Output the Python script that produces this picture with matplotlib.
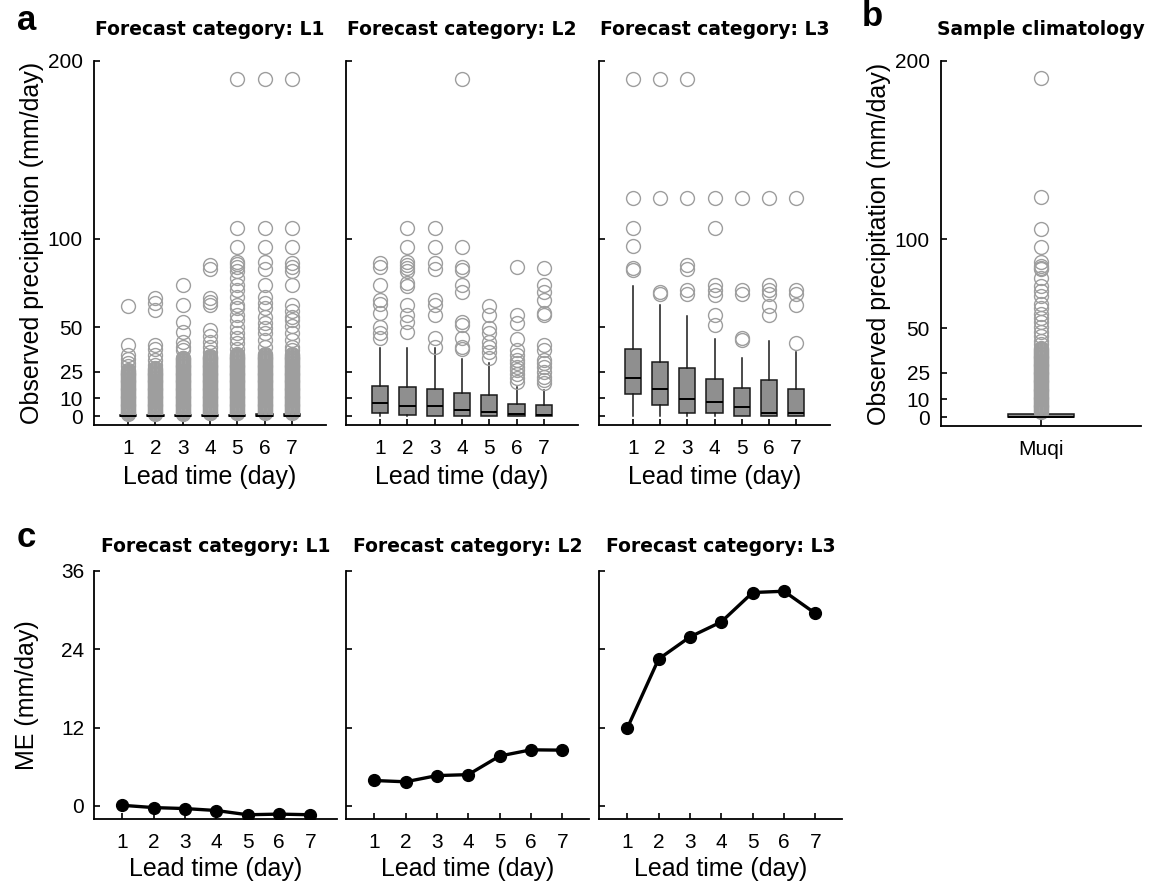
import matplotlib
matplotlib.use("Agg")
import matplotlib.pyplot as plt

plt.rcParams['font.family'] = ['Liberation Sans', 'DejaVu Sans']

W, H = 1152, 890

lead_days = [1, 2, 3, 4, 5, 6, 7]
prec_ticks = [0, 10, 25, 50, 100, 200]
me_ticks = [0, 12, 24, 36]

dense_vals = [1, 1.5, 2, 2.5, 3, 3.5, 4, 4.5, 5, 5.5, 6, 6.5, 7, 7.5, 8, 8.5,
              9, 9.5, 10, 10.5, 11, 11.5, 12, 12.5, 13, 13.5, 14, 14.5, 15,
              15.5, 16, 16.5, 17, 17.5, 18, 18.5, 19, 19.5, 20, 20.5, 21,
              21.5, 22, 22.5, 23, 23.5, 24, 24.5, 25, 25.5, 26, 26.5, 27,
              27.5, 28, 28.5, 29, 29.5, 30, 30.5, 31, 31.5, 32, 32.5, 33,
              33.5, 34, 34.5, 35, 35.5, 36, 36.5, 37, 37.5, 38]

# ---- panel a, category L1
l1_q1 = [0, 0, 0, 0, 0, 0, 0]
l1_med = [0, 0, 0, 0, 0, 0.2, 0.3]
l1_q3 = [0.4, 0.4, 0.4, 0.5, 0.5, 1.0, 1.2]
l1_lo = [0, 0, 0, 0, 0, 0, 0]
l1_hi = [0.8, 0.8, 0.8, 1.0, 1.0, 1.6, 1.8]
l1_dense_top = [26, 27, 33, 34, 35, 35, 35]
l1_sparse = [
    [62, 40, 34.5, 32, 30, 28],
    [66.5, 63.5, 60, 40, 38, 34.5, 31.5, 29],
    [74, 62.5, 53, 47.5, 42, 39, 37],
    [85, 83, 66.5, 64.5, 62.5, 48.5, 45, 42, 39, 36],
    [190, 105.7, 95, 87, 85.5, 84, 82, 78, 74, 71, 67, 62.7, 60.8, 57, 54,
     50.4, 46.7, 44, 41, 38],
    [190, 105.7, 95, 87, 83, 74, 67, 63.6, 60.8, 56, 52.3, 49.5, 46.7, 43, 39],
    [190, 105.7, 95, 86, 84, 82, 74, 62.7, 59, 56, 54, 51, 46.7, 43, 39, 37],
]

# ---- panel a, category L2
l2_q1 = [1.9, 0.9, 0, 0, 0, 0, 0]
l2_med = [7.5, 5.6, 5.6, 3.2, 2.3, 1.0, 0.4]
l2_q3 = [17.1, 16.6, 15.2, 12.8, 11.9, 7.1, 6.2]
l2_lo = [0, 0, 0, 0, 0, 0, 0]
l2_hi = [38.6, 38.6, 38.2, 32, 29.7, 16.6, 14.7]
l2_fliers = [
    [86, 84, 74, 65.5, 63, 58, 50.4, 46.7, 43.8],
    [105.7, 95, 87, 85, 83.3, 81.5, 75, 73.4, 62.7, 57, 53, 47.6],
    [105.7, 95, 86, 83, 65.5, 62.7, 57, 43.8, 39],
    [190, 95, 84, 82.4, 74, 70, 53, 51.4, 43.8, 39, 38],
    [62, 57, 49.5, 46.7, 42, 39, 36.3, 32.5],
    [84, 57, 52.3, 43.3, 37.3, 34.4, 31.6, 29.7, 27.8, 26, 24, 21.3, 19.4],
    [83.3, 74, 70, 65.5, 58, 57, 40, 37.3, 31.6, 29.7, 27.8, 25, 22.2, 20.3,
     18.4],
]

# ---- panel a, category L3
l3_q1 = [12.2, 6.2, 1.5, 1.5, 0, 0, 0]
l3_med = [21.6, 15.2, 9.6, 8.1, 5.3, 1.9, 1.9]
l3_q3 = [37.6, 30.7, 26.9, 20.7, 15.6, 20.3, 15.2]
l3_lo = [0, 0, 0, 0, 0, 0, 0]
l3_hi = [73.4, 62.7, 56.4, 43.3, 33, 42.5, 36]
l3_fliers = [
    [190, 122.9, 105.7, 95.6, 83.3, 82.4],
    [190, 122.9, 70, 69],
    [190, 122.9, 85, 82.8, 71, 69],
    [122.9, 105.7, 74, 71, 68.3, 57, 51.4],
    [122.9, 71, 69, 43.8, 42.9],
    [122.9, 74, 71, 69, 62, 57],
    [122.9, 71, 69, 62.7, 41],
]

# ---- panel b, sample climatology
clim_name = ['Muqi']
clim_q1, clim_med, clim_q3 = 0, 0.3, 1.9
clim_lo, clim_hi = 0, 2.5
clim_dense_top = 38
clim_sparse = [190.6, 123.4, 105.6, 95.3, 86.9, 85, 84, 83, 78, 73.8, 71, 68,
               63.6, 61, 58, 55.5, 53.3, 50.5, 48, 45.8, 43, 41, 39]

# ---- panel c, mean error
me_l1 = [0.1, -0.25, -0.4, -0.7, -1.35, -1.25, -1.35]
me_l2 = [3.9, 3.7, 4.65, 4.8, 7.65, 8.6, 8.55]
me_l3 = [11.9, 22.5, 25.9, 28.2, 32.7, 32.9, 29.5]

categories = ['L1', 'L2', 'L3']


def box_stats(q1, med, q3, lo, hi, fliers):
    return [dict(q1=q1[i], med=med[i], q3=q3[i], whislo=lo[i], whishi=hi[i],
                 fliers=fliers[i]) for i in range(len(q1))]


def px_axes(fig, left, top, right, bottom):
    return fig.add_axes([left / W, 1 - bottom / H, (right - left) / W,
                         (bottom - top) / H])


def style(ax, pad_y=8, pad_x=10):
    for s in ['top', 'right']:
        ax.spines[s].set_visible(False)
    for s in ['left', 'bottom']:
        ax.spines[s].set_linewidth(1.3)
    ax.tick_params(direction='in', length=4, width=1.2, labelsize=15)
    ax.tick_params(axis='y', pad=pad_y)
    ax.tick_params(axis='x', pad=pad_x)


box_kw = dict(patch_artist=True, showcaps=False,
              boxprops=dict(facecolor='#8f8f8f', edgecolor='#1a1a1a',
                            linewidth=1.1),
              medianprops=dict(color='black', linewidth=1.4, zorder=4),
              whiskerprops=dict(color='#1a1a1a', linewidth=1.1),
              flierprops=dict(marker='o', markerfacecolor='none',
                              markeredgecolor='#9e9e9e', markersize=10,
                              markeredgewidth=1))

fig = plt.figure(figsize=(W / 100, H / 100), dpi=100)

l1_fliers = [[v for v in dense_vals if l1_hi[i] < v <= l1_dense_top[i]] +
             l1_sparse[i] for i in range(7)]
a_stats = [box_stats(l1_q1, l1_med, l1_q3, l1_lo, l1_hi, l1_fliers),
           box_stats(l2_q1, l2_med, l2_q3, l2_lo, l2_hi, l2_fliers),
           box_stats(l3_q1, l3_med, l3_q3, l3_lo, l3_hi, l3_fliers)]
a_lefts = [94, 346, 599]
a_rights = [326, 578, 830]

for k in range(3):
    ax = px_axes(fig, a_lefts[k], 61, a_rights[k], 425)
    ax.bxp(a_stats[k], positions=lead_days, widths=0.6, **box_kw)
    ax.set_xlim(-0.25, 8.25)
    ax.set_ylim(-5, 200)
    ax.set_yticks(prec_ticks)
    ax.set_xticks(lead_days)
    ax.set_xticklabels([str(d) for d in lead_days])
    style(ax)
    ax.set_title('Forecast category: ' + categories[k], family='DejaVu Sans',
                 fontweight='bold', fontsize=13.5, pad=19)
    ax.set_xlabel('Lead time (day)', fontsize=18, labelpad=5)
    if k == 0:
        ax.set_ylabel('Observed precipitation (mm/day)', fontsize=18,
                      labelpad=3)
    else:
        ax.set_yticklabels([])

# panel b
axb = px_axes(fig, 941, 61, 1141, 426)
clim_fliers = [v for v in dense_vals if clim_hi < v <= clim_dense_top] + \
    clim_sparse
axb.bxp([dict(q1=clim_q1, med=clim_med, q3=clim_q3, whislo=clim_lo,
              whishi=clim_hi, fliers=clim_fliers)],
        positions=[1], widths=0.33, **box_kw)
axb.set_xlim(0.5, 1.5)
axb.set_ylim(-5, 200)
axb.set_yticks(prec_ticks)
axb.set_xticks([1])
axb.set_xticklabels(clim_name)
style(axb)
axb.set_title('Sample climatology', family='DejaVu Sans', fontweight='bold',
              fontsize=13.5, pad=19)
axb.set_ylabel('Observed precipitation (mm/day)', fontsize=18, labelpad=3)

# panel c
me_series = [me_l1, me_l2, me_l3]
c_lefts = [94, 346, 599]
for k in range(3):
    ax = px_axes(fig, c_lefts[k], 571, c_lefts[k] + 243, 819)
    ax.plot(lead_days, me_series[k], color='black', linewidth=2.4,
            marker='o', markersize=8.5)
    ax.set_xlim(0.1, 7.85)
    ax.set_ylim(-2, 36)
    ax.set_yticks(me_ticks)
    ax.set_xticks(lead_days)
    style(ax, pad_y=7, pad_x=10)
    ax.set_title('Forecast category: ' + categories[k], family='DejaVu Sans',
                 fontweight='bold', fontsize=13.5, pad=13.5)
    ax.set_xlabel('Lead time (day)', fontsize=18, labelpad=4)
    if k == 0:
        ax.set_ylabel('ME (mm/day)', fontsize=18, labelpad=16)
    else:
        ax.set_yticklabels([])

fig.text(17 / W, 1 - 30 / H, 'a', fontsize=25, fontweight='bold',
         va='baseline')
fig.text(862 / W, 1 - 26 / H, 'b', fontsize=25, fontweight='bold',
         va='baseline')
fig.text(17 / W, 1 - 547 / H, 'c', fontsize=25, fontweight='bold',
         va='baseline')

fig.savefig('out.png', dpi=100, facecolor='white')
